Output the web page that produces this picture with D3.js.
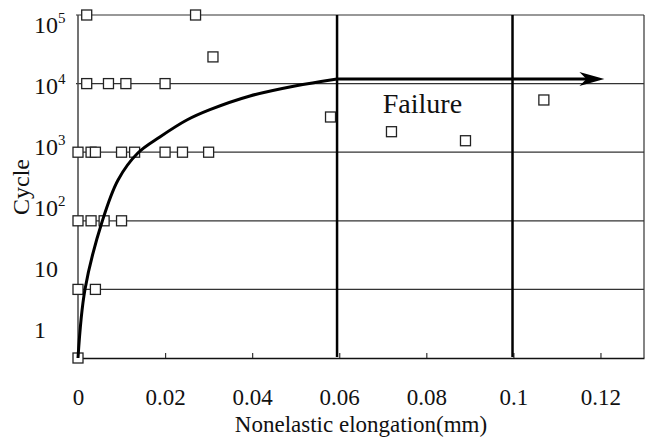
<!DOCTYPE html>
<html>
<head>
<meta charset="utf-8">
<script src="https://cdn.jsdelivr.net/npm/d3@7"></script>
<style>
  body { margin: 0; background: #fff; }
  text { font-family: "Liberation Serif", "Times New Roman", serif; fill: #111; }
</style>
</head>
<body>
<div id="chart"></div>
<script>
// measured points (elongation in mm, cycles)
var elongation = [0.002, 0.027, 0.031,
                  0.002, 0.007, 0.011, 0.020,
                  0, 0.003, 0.004, 0.010, 0.013, 0.020, 0.024, 0.030,
                  0, 0.003, 0.006, 0.010,
                  0, 0.004,
                  0,
                  0.058, 0.072, 0.089, 0.107];
var cycles = [1e5, 1e5, 24500,
              1e4, 1e4, 1e4, 1e4,
              1e3, 1e3, 1e3, 1e3, 1e3, 1e3, 1e3, 1e3,
              100, 100, 100, 100,
              10, 10,
              1,
              3260, 1990, 1470, 5770];

// fitted curve
var curveX = [0, 0.0016, 0.0056, 0.0092, 0.0138, 0.0188, 0.0250, 0.0303, 0.0395, 0.0498, 0.0595];
var curveCycles = [1, 10, 100, 394, 980, 1667, 2946, 4170, 6600, 9230, 11700];

var arrowEnd = 0.1209;             // tip of the "Failure" arrow
var limitLines = [0.0595, 0.0998]; // thick vertical lines
var gridCycles = [1, 10, 100, 1e3, 1e4, 1e5];
var xTicks = [0, 0.02, 0.04, 0.06, 0.08, 0.1, 0.12];

var width = 652, height = 439,
    margin = {top: 15, right: 8, bottom: 81, left: 78};

var svg = d3.select("#chart").append("svg")
    .attr("width", width)
    .attr("height", height);

var x = d3.scaleLinear().domain([0, 0.13]).range([margin.left, width - margin.right]),
    y = d3.scaleLog().domain([1, 1e5]).range([height - margin.bottom, margin.top]),
    // tick labels sit on their own, slightly squeezed, scale in the original
    yLab = d3.scaleLog().domain([1, 1e5]).range([329, 24]);

// horizontal grid lines
svg.append("g").attr("class", "grid")
    .selectAll("line")
    .data(gridCycles.slice(1))
    .enter().append("line")
    .attr("x1", x(0) - 2)
    .attr("x2", x(0.13))
    .attr("y1", function(d) { return y(d); })
    .attr("y2", function(d) { return y(d); })
    .attr("stroke", "#333")
    .attr("stroke-width", 1.2);

// left and right frame
svg.append("line")
    .attr("x1", x(0)).attr("x2", x(0))
    .attr("y1", y(1e5)).attr("y2", y(1))
    .attr("stroke", "#444").attr("stroke-width", 1.5);
svg.append("line")
    .attr("x1", x(0.13)).attr("x2", x(0.13))
    .attr("y1", y(1e5)).attr("y2", y(1))
    .attr("stroke", "#333").attr("stroke-width", 1.2);

// x axis, ticks pointing inward
var xAxis = d3.axisBottom(x).tickValues(xTicks).tickSizeInner(-5).tickSizeOuter(0)
    .tickFormat(function(d) { return d === 0 ? "0" : d3.format("~g")(d); });
var gx = svg.append("g")
    .attr("transform", "translate(0," + y(1) + ")")
    .call(xAxis);
gx.select(".domain").attr("stroke", "#111").attr("stroke-width", 1.5);
gx.selectAll(".tick line").attr("stroke", "#333").attr("stroke-width", 1.2);
gx.selectAll("text")
    .attr("y", 47).attr("dy", 0)
    .style("font-size", "23px")
    .attr("fill", "#111");

// y axis labels (10^n)
var gy = svg.append("g")
    .call(d3.axisLeft(yLab).tickValues(gridCycles).tickSize(0).tickFormat(""));
gy.select(".domain").remove();
gy.selectAll(".tick").each(function(d) {
    var p = Math.round(Math.log10(d));
    var t = d3.select(this).append("text")
        .attr("x", 34)
        .attr("dy", "0.35em")
        .attr("text-anchor", "start")
        .style("font-size", "24px")
        .attr("fill", "#111");
    if (p < 2) {
        t.text(p === 0 ? "1" : "10");
    } else {
        t.append("tspan").text("10");
        t.append("tspan").attr("dy", -10).style("font-size", "15px").text(p);
    }
});

// thick limit lines
svg.append("g").selectAll("line")
    .data(limitLines)
    .enter().append("line")
    .attr("x1", function(d) { return x(d); })
    .attr("x2", function(d) { return x(d); })
    .attr("y1", y(1e5)).attr("y2", y(1) - 1)
    .attr("stroke", "#000")
    .attr("stroke-width", 2.5);

// square markers
svg.append("g").selectAll("rect")
    .data(elongation.map(function(e, i) { return {x: e, c: cycles[i]}; }))
    .enter().append("rect")
    .attr("x", function(d) { return x(d.x) - 5; })
    .attr("y", function(d) { return y(d.c) - 5; })
    .attr("width", 10).attr("height", 10)
    .attr("fill", "#fff")
    .attr("stroke", "#222")
    .attr("stroke-width", 1.3);

// fitted curve
var line = d3.line()
    .x(function(d) { return x(d[0]); })
    .y(function(d) { return y(d[1]); })
    .curve(d3.curveCatmullRom.alpha(0.5));
svg.append("path")
    .datum(curveX.map(function(v, i) { return [v, curveCycles[i]]; }))
    .attr("d", line)
    .attr("fill", "none")
    .attr("stroke", "#000")
    .attr("stroke-width", 3);

// failure arrow
var ay = y(curveCycles[curveCycles.length - 1]),
    ax0 = x(curveX[curveX.length - 1]),
    ax1 = x(arrowEnd);
svg.append("line")
    .attr("x1", ax0).attr("x2", ax1 - 15)
    .attr("y1", ay).attr("y2", ay)
    .attr("stroke", "#000").attr("stroke-width", 3);
svg.append("path")
    .attr("d", "M" + ax1 + "," + ay + "L" + (ax1 - 25) + "," + (ay - 7) +
               "L" + (ax1 - 18) + "," + ay + "L" + (ax1 - 25) + "," + (ay + 7) + "Z")
    .attr("fill", "#000");

svg.append("text")
    .attr("x", x(0.07))
    .attr("y", y(3700))
    .style("font-size", "28px")
    .text("Failure");

// axis titles
svg.append("text")
    .attr("x", (x(0) + x(0.13)) / 2)
    .attr("y", 432)
    .attr("text-anchor", "middle")
    .style("font-size", "23px")
    .text("Nonelastic elongation(mm)");

svg.append("text")
    .attr("transform", "translate(29,187) rotate(-90)")
    .attr("text-anchor", "middle")
    .style("font-size", "24px")
    .text("Cycle");
</script>
</body>
</html>
